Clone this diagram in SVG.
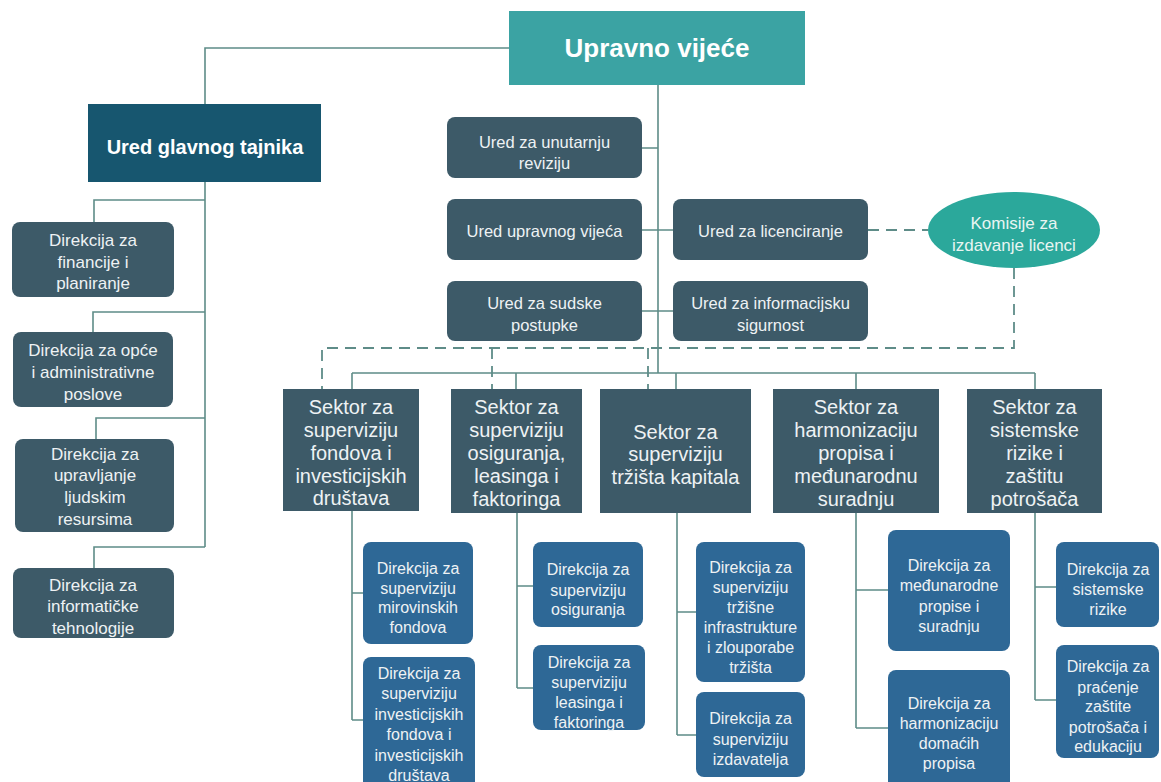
<svg xmlns="http://www.w3.org/2000/svg" width="1161" height="782" viewBox="0 0 1161 782">
<style>
.ln{fill:none;stroke:#5e8c88;stroke-width:1.6}
.dl{fill:none;stroke:#5e8c88;stroke-width:1.8;stroke-dasharray:11 7}
.slate{fill:#3d5a68}
.blue{fill:#2e6896}
text{font-family:"Liberation Sans",Arial,sans-serif;fill:#eef2f4;text-anchor:middle}
.t17{font-size:17px}
.t16{font-size:16.5px}
.t20{font-size:20px}
.t15{font-size:16px}
</style>
<rect width="1161" height="782" fill="#ffffff"/>
<g id="connectors">
<path class="ln" d="M509,48 H205 V104"/>
<path class="ln" d="M205,182 V547 M205,200 H94 V222 M205,312 H93 V332 M205,418 H96 V439 M205,547 H94 V568"/>
<path class="ln" d="M658,85 V373 M642,148 H658 M642,230 H673 M642,311 H673"/>
<path class="ln" d="M352,373 H1035 M352,373 V389 M516,373 V389 M676,373 V389 M856,373 V389 M1035,373 V389"/>
<path class="ln" d="M352,511 V720 M352,593 H363 M352,720 H363"/>
<path class="ln" d="M517,513 V688 M517,586 H533 M517,688 H533"/>
<path class="ln" d="M677,513 V735 M677,612 H696 M677,735 H696"/>
<path class="ln" d="M856,513 V728 M856,590 H888 M856,728 H888"/>
<path class="ln" d="M1035,513 V700 M1035,587 H1056 M1035,700 H1056"/>
<path class="dl" d="M868,230 H928"/>
<path class="dl" d="M1014,268 V348 H322 V389"/>
<path class="dl" d="M492,348 V389 M648,348 V389"/>
</g>
<g id="upravno-vijece">
<rect x="509" y="11" width="296" height="74" fill="#3ba3a3"/>
<text x="657" y="57" style="font-size:26px;font-weight:bold;fill:#ffffff">Upravno vijeće</text>
</g>
<g id="ured-glavnog-tajnika">
<rect x="88" y="104" width="233" height="78" fill="#17566f"/>
<text x="205" y="154" style="font-size:20px;font-weight:bold;fill:#ffffff">Ured glavnog tajnika</text>
</g>
<g id="dir-financije">
<rect class="slate" x="12" y="222" width="162" height="75" rx="8"/>
<text class="t17" x="93" y="246">Direkcija za</text>
<text class="t17" x="93" y="267.5">financije i</text>
<text class="t17" x="93" y="289">planiranje</text>
</g>
<g id="dir-opce">
<rect class="slate" x="13" y="332" width="160" height="75" rx="8"/>
<text class="t17" x="93" y="356">Direkcija za opće</text>
<text class="t17" x="93" y="378">i administrativne</text>
<text class="t17" x="93" y="400">poslove</text>
</g>
<g id="dir-ljudski">
<rect class="slate" x="15" y="439" width="159" height="93" rx="8"/>
<text class="t17" x="95" y="460">Direkcija za</text>
<text class="t17" x="95" y="481">upravljanje</text>
<text class="t17" x="95" y="503">ljudskim</text>
<text class="t17" x="95" y="525">resursima</text>
</g>
<g id="dir-informaticke">
<rect class="slate" x="13" y="568" width="161" height="70" rx="8"/>
<text class="t17" x="93" y="591">Direkcija za</text>
<text class="t17" x="93" y="612">informatičke</text>
<text class="t17" x="93" y="634">tehnologije</text>
</g>
<g id="ured-revizija">
<rect class="slate" x="447" y="117" width="195" height="61" rx="8"/>
<text class="t16" x="544.5" y="148">Ured za unutarnju</text>
<text class="t16" x="544.5" y="169">reviziju</text>
</g>
<g id="ured-upravnog-vijeca">
<rect class="slate" x="447" y="199" width="195" height="61" rx="8"/>
<text class="t16" x="544.5" y="237">Ured upravnog vijeća</text>
</g>
<g id="ured-sudske">
<rect class="slate" x="447" y="281" width="195" height="60" rx="8"/>
<text class="t16" x="544.5" y="309">Ured za sudske</text>
<text class="t16" x="544.5" y="331">postupke</text>
</g>
<g id="ured-licenciranje">
<rect class="slate" x="673" y="199" width="195" height="61" rx="8"/>
<text class="t16" x="770.5" y="237">Ured za licenciranje</text>
</g>
<g id="ured-informacijska">
<rect class="slate" x="673" y="281" width="195" height="60" rx="8"/>
<text class="t16" x="770.5" y="309">Ured za informacijsku</text>
<text class="t16" x="770.5" y="331">sigurnost</text>
</g>
<g id="komisije">
<ellipse cx="1014" cy="230" rx="86" ry="38" fill="#2ba89b"/>
<text class="t17" x="1014" y="229" style="fill:#e8f5f2">Komisije za</text>
<text class="t17" x="1014" y="251" style="fill:#e8f5f2">izdavanje licenci</text>
</g>
<g id="sektor-fondovi">
<rect class="slate" x="283" y="389" width="136" height="122"/>
<text class="t20" x="351" y="414">Sektor za</text>
<text class="t20" x="351" y="437">superviziju</text>
<text class="t20" x="351" y="460">fondova i</text>
<text class="t20" x="351" y="483">investicijskih</text>
<text class="t20" x="351" y="505">društava</text>
</g>
<g id="sektor-osiguranje">
<rect class="slate" x="451" y="389" width="131" height="124"/>
<text class="t20" x="516.5" y="414">Sektor za</text>
<text class="t20" x="516.5" y="437">superviziju</text>
<text class="t20" x="516.5" y="460">osiguranja,</text>
<text class="t20" x="516.5" y="483">leasinga i</text>
<text class="t20" x="516.5" y="506">faktoringa</text>
</g>
<g id="sektor-trziste">
<rect class="slate" x="600" y="389" width="151" height="124"/>
<text class="t20" x="675.5" y="439">Sektor za</text>
<text class="t20" x="675.5" y="461">superviziju</text>
<text class="t20" x="675.5" y="484">tržišta kapitala</text>
</g>
<g id="sektor-harmonizacija">
<rect class="slate" x="773" y="389" width="166" height="124"/>
<text class="t20" x="856" y="414">Sektor za</text>
<text class="t20" x="856" y="437">harmonizaciju</text>
<text class="t20" x="856" y="460">propisa i</text>
<text class="t20" x="856" y="483">međunarodnu</text>
<text class="t20" x="856" y="506">suradnju</text>
</g>
<g id="sektor-rizici">
<rect class="slate" x="967" y="389" width="135" height="124"/>
<text class="t20" x="1034.5" y="414">Sektor za</text>
<text class="t20" x="1034.5" y="437">sistemske</text>
<text class="t20" x="1034.5" y="460">rizike i</text>
<text class="t20" x="1034.5" y="483">zaštitu</text>
<text class="t20" x="1034.5" y="506">potrošača</text>
</g>
<g id="dir-mirovinski">
<rect class="blue" x="363" y="542" width="110" height="102" rx="8"/>
<text class="t15" x="418" y="574">Direkcija za</text>
<text class="t15" x="418" y="594">superviziju</text>
<text class="t15" x="418" y="613">mirovinskih</text>
<text class="t15" x="418" y="633">fondova</text>
</g>
<g id="dir-investicijski">
<rect class="blue" x="363" y="657" width="112" height="135" rx="8"/>
<text class="t15" x="419" y="679">Direkcija za</text>
<text class="t15" x="419" y="699">superviziju</text>
<text class="t15" x="419" y="720">investicijskih</text>
<text class="t15" x="419" y="740">fondova i</text>
<text class="t15" x="419" y="761">investicijskih</text>
<text class="t15" x="419" y="781">društava</text>
</g>
<g id="dir-osiguranje">
<rect class="blue" x="533" y="542" width="110" height="85" rx="8"/>
<text class="t15" x="588" y="575">Direkcija za</text>
<text class="t15" x="588" y="596">superviziju</text>
<text class="t15" x="588" y="615">osiguranja</text>
</g>
<g id="dir-leasing">
<rect class="blue" x="533" y="645" width="112" height="85" rx="8"/>
<text class="t15" x="589" y="668">Direkcija za</text>
<text class="t15" x="589" y="688">superviziju</text>
<text class="t15" x="589" y="708">leasinga i</text>
<text class="t15" x="589" y="728">faktoringa</text>
</g>
<g id="dir-infrastruktura">
<rect class="blue" x="696" y="542" width="109" height="140" rx="8"/>
<text class="t15" x="750.5" y="573">Direkcija za</text>
<text class="t15" x="750.5" y="593">superviziju</text>
<text class="t15" x="750.5" y="613">tržišne</text>
<text class="t15" x="750.5" y="633">infrastrukture</text>
<text class="t15" x="750.5" y="653">i zlouporabe</text>
<text class="t15" x="750.5" y="673">tržišta</text>
</g>
<g id="dir-izdavatelji">
<rect class="blue" x="696" y="692" width="109" height="85" rx="8"/>
<text class="t15" x="750.5" y="724">Direkcija za</text>
<text class="t15" x="750.5" y="745">superviziju</text>
<text class="t15" x="750.5" y="765">izdavatelja</text>
</g>
<g id="dir-medunarodni">
<rect class="blue" x="888" y="530" width="122" height="121" rx="8"/>
<text class="t15" x="949" y="571">Direkcija za</text>
<text class="t15" x="949" y="591">međunarodne</text>
<text class="t15" x="949" y="612">propise i</text>
<text class="t15" x="949" y="632">suradnju</text>
</g>
<g id="dir-domaci">
<rect class="blue" x="888" y="670" width="122" height="122" rx="8"/>
<text class="t15" x="949" y="709">Direkcija za</text>
<text class="t15" x="949" y="729">harmonizaciju</text>
<text class="t15" x="949" y="749">domaćih</text>
<text class="t15" x="949" y="769">propisa</text>
</g>
<g id="dir-sistemski">
<rect class="blue" x="1056" y="542" width="103" height="85" rx="8"/>
<text class="t15" x="1108" y="575">Direkcija za</text>
<text class="t15" x="1108" y="595">sistemske</text>
<text class="t15" x="1108" y="615">rizike</text>
</g>
<g id="dir-potrosaci">
<rect class="blue" x="1056" y="645" width="103" height="113" rx="8"/>
<text class="t15" x="1108" y="672">Direkcija za</text>
<text class="t15" x="1108" y="693">praćenje</text>
<text class="t15" x="1108" y="712">zaštite</text>
<text class="t15" x="1108" y="733">potrošača i</text>
<text class="t15" x="1108" y="752">edukaciju</text>
</g>
</svg>
